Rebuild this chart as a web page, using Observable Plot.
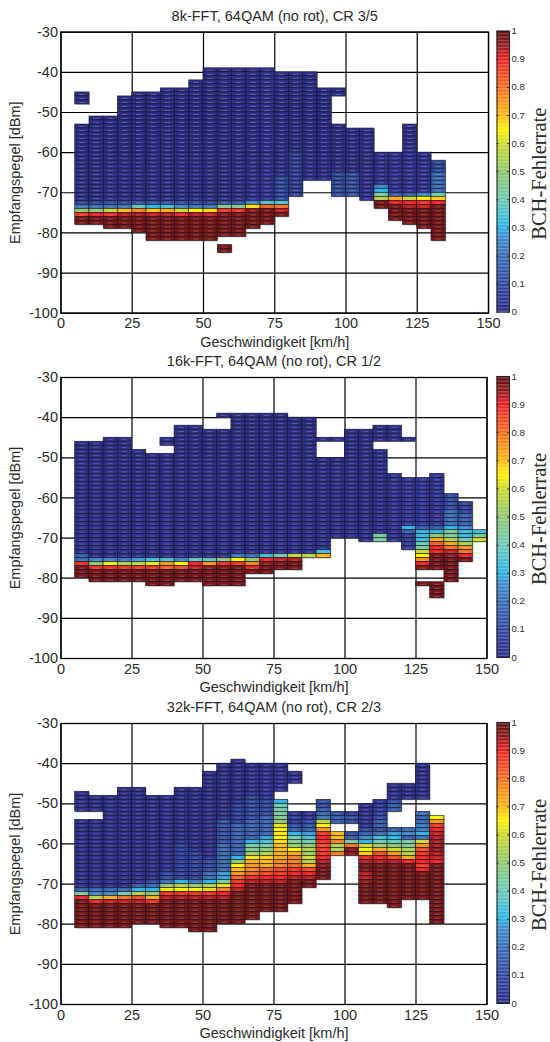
<!DOCTYPE html>
<html><head><meta charset="utf-8">
<script src="https://cdn.jsdelivr.net/npm/d3@7"></script>
<script src="https://cdn.jsdelivr.net/npm/@observablehq/plot@0.6"></script>
<style>
html,body{margin:0;padding:0;background:#fff}
#page{position:relative;width:550px;height:1042px;overflow:hidden}
#page svg{position:absolute;overflow:visible;background:transparent}
</style></head><body><div id="page"></div>
<script>
// Each column: [speed start km/h, top dBm, [rows, rate, rows, rate, ...]] — rate null = no measurement
const n = null;
const columns8k = [
[5,-45,[3,.03,5,n,19,.03,1,.08,1,.22,1,.5,1,.87,2,.97]],
[10,-51,[21,.03,1,.08,1,.2,1,.48,1,.9,2,.97]],
[15,-51,[21,.03,1,.1,1,.2,1,.58,1,.88,3,.97]],
[20,-46,[26,.03,1,.1,1,.22,1,.7,1,.93,3,.97]],
[25,-45,[27,.03,1,.12,1,.38,1,.77,1,.94,4,.97]],
[30,-45,[27,.03,1,.12,1,.3,1,.69,1,.92,6,.97]],
[35,-44,[28,.03,1,.12,1,.33,1,.72,1,.93,6,.97]],
[40,-44,[28,.03,1,.1,1,.25,1,.6,1,.9,6,.97]],
[45,-42,[30,.03,1,.1,1,.22,1,.65,1,.93,6,.97]],
[50,-39,[33,.03,1,.08,1,.22,1,.67,1,.92,6,.97]],
[55,-39,[33,.03,1,.12,1,.45,1,.87,1,.96,5,.97,2,n,2,.97]],
[60,-39,[33,.03,1,.12,1,.45,1,.88,1,.97,5,.97]],
[65,-39,[33,.04,1,.25,1,.67,1,.95,4,.97]],
[70,-39,[33,.05,1,.35,1,.82,1,.97,3,.97]],
[75,-40,[26,.03,6,.1,1,.35,1,.8,1,.92,1,.97]],
[80,-40,[20,.03,11,.08]],
[85,-40,[27,.03]],
[90,-44,[23,.03]],
[95,-44,[2,.03,7,n,12,.03,6,.1]],
[100,-54,[11,.03,6,.12]],
[105,-54,[18,.04]],
[110,-60,[8,.05,1,.25,1,.3,1,.42,1,.55,2,.97]],
[115,-60,[10,.05,1,.15,1,.72,1,.9,4,.97]],
[120,-53,[17,.05,1,.15,1,.6,1,.9,1,.93,4,.97]],
[125,-60,[10,.05,1,.25,1,.65,1,.88,1,.92,5,.97]],
[130,-62,[3,.1,5,.2,1,.4,1,.68,1,.9,9,.97]]
];
const columns16k = [
[5,-46,[28,.03,1,.15,1,.2,1,.88,3,.97]],
[10,-46,[29,.03,1,.25,1,.5,1,.88,3,.97]],
[15,-45,[30,.03,1,.25,1,.64,1,.88,3,.97]],
[20,-45,[30,.03,1,.22,1,.55,1,.88,3,.97]],
[25,-48,[27,.03,1,.28,1,.57,1,.87,3,.97]],
[30,-49,[26,.03,1,.33,1,.63,1,.87,4,.97]],
[35,-45,[2,.03,2,n,26,.03,1,.35,1,.75,1,.82,4,.97]],
[40,-42,[33,.03,1,.25,1,.65,1,.85,3,.97]],
[45,-42,[33,.03,1,.38,1,.9,1,.92,3,.97]],
[50,-43,[32,.03,1,.38,1,.75,1,.95,4,.97]],
[55,-39,[1,.03,3,n,32,.03,1,.48,1,.88,1,.96,4,.97]],
[60,-39,[35,.03,1,.22,1,.65,1,.88,5,.97]],
[65,-39,[35,.03,1,.2,1,.5,1,.77,1,.9,1,.97]],
[70,-39,[35,.03,1,.33,1,.9,1,.95,2,.97]],
[75,-39,[35,.03,1,.4,1,.92,2,.97]],
[80,-40,[34,.03,1,.58,1,.93,2,.97]],
[85,-40,[34,.03,1,.56]],
[90,-45,[1,.03,4,n,23,.03,1,.33,1,.7]],
[95,-45,[1,.03,4,n,20,.03]],
[100,-43,[27,.03]],
[105,-43,[28,.03]],
[110,-42,[4,.03,2,n,21,.03,2,.42]],
[115,-42,[4,.03,8,n,17,.04]],
[120,-45,[1,.03,9,n,12,.05,1,.3,1,.15,4,.06]],
[125,-55,[12,.05,1,.15,1,.3,2,.32,1,.4,1,.42,1,.6,1,.65,1,.76,1,.9,1,.96,3,n,1,.97]],
[130,-54,[13,.05,1,.15,1,.3,1,.5,1,.72,1,.82,2,.9,4,.97,3,n,4,.97]],
[135,-59,[4,.1,4,.2,1,.3,2,.45,1,.55,1,.73,1,.8,1,.92,1,.95,6,.97]],
[140,-61,[3,.08,3,.16,1,.25,1,.33,1,.32,1,.4,1,.55,1,.75,1,.8,1,.9,1,.97]],
[145,-68,[1,.33,1,.42,1,.6]]
];
const columns32k = [
[5,-47,[5,.03,2,n,17,.03,1,.15,1,.45,1,.9,7,.97]],
[10,-48,[4,.03,2,n,17,.03,1,.18,1,.25,1,.58,1,.9,6,.97]],
[15,-48,[23,.03,1,.18,1,.25,1,.72,1,.92,6,.97]],
[20,-46,[25,.03,1,.18,1,.4,1,.8,1,.92,6,.97]],
[25,-46,[24,.03,1,.15,1,.3,1,.55,1,.85,1,.93,5,.97]],
[30,-48,[21,.03,1,.1,1,.18,1,.3,1,.5,1,.72,1,.88,5,.97]],
[35,-48,[19,.03,2,.1,1,.2,1,.5,1,.66,1,.88,1,.93,7,.97]],
[40,-46,[14,.03,9,.07,1,.3,1,.55,1,.65,1,.88,1,.93,7,.97]],
[45,-46,[16,.03,7,.08,1,.22,1,.5,1,.65,1,.88,1,.93,8,.97]],
[50,-42,[22,.03,3,.1,2,.2,1,.3,1,.55,1,.67,1,.88,1,.93,8,.97]],
[55,-40,[14,.03,6,.12,7,.18,2,.28,1,.45,1,.62,1,.78,1,.9,1,.93,6,.97]],
[60,-39,[11,.03,5,.07,8,.16,1,.3,1,.5,1,.65,1,.7,1,.75,1,.82,1,.88,1,.9,1,.93,8,.97]],
[65,-40,[8,.04,6,.1,5,.17,1,.3,1,.42,1,.45,1,.52,1,.63,1,.72,1,.75,1,.77,1,.82,1,.88,1,.93,9,.97]],
[70,-40,[9,.05,4,.1,5,.17,1,.28,1,.35,1,.42,1,.5,1,.55,1,.68,1,.7,1,.72,1,.82,1,.85,1,.9,1,.93,7,.97]],
[75,-40,[7,.05,2,n,1,.3,1,.4,1,.42,1,.43,1,.45,1,.5,1,.62,1,.65,1,.66,1,.65,1,.67,2,.7,2,.72,1,.76,1,.78,1,.85,1,.87,1,.9,1,.93,7,.97]],
[80,-42,[3,.04,7,n,1,.05,1,.08,1,.05,1,.12,1,.15,1,.3,1,.4,1,.45,1,.5,1,.65,1,.72,2,.78,1,.82,1,.88,1,.9,1,.93,6,.97]],
[85,-52,[2,.05,1,.1,1,.12,1,.15,1,.28,1,.35,1,.42,1,.5,1,.55,1,.52,1,.6,1,.55,1,.72,1,.85,1,.9,1,.93,2,.97]],
[90,-49,[1,.12,1,.1,1,.15,1,.18,1,.22,1,.57,1,.65,1,.75,1,.87,1,.9,1,.88,1,.85,1,.87,1,.88,1,.9,1,.93,1,.95,3,.97]],
[95,-52,[1,.12,2,.15,2,n,2,.7,1,.78,2,.55,1,.78]],
[100,-52,[1,.06,1,.12,1,.1,2,n,1,.1,1,.15,1,.42,1,.8,2,.96]],
[105,-50,[6,.04,1,.1,1,.15,1,.25,1,.3,1,.6,1,.65,1,.68,1,.9,1,.93,1,.97,1,.96,2,.93,1,.95,5,.97]],
[110,-49,[2,.05,1,.07,1,.08,1,.1,2,.15,1,.1,1,.2,1,.33,1,.4,1,.52,1,.72,1,.85,1,.9,1,.93,10,.97]],
[115,-45,[4,.04,1,.12,2,.15,4,n,1,.15,1,.28,1,.3,1,.4,1,.5,1,.6,1,.75,1,.85,1,.93,11,.97]],
[120,-45,[4,.04,7,n,1,.2,1,.25,1,.15,1,.42,1,.45,2,.55,1,.72,1,.9,9,.97]],
[125,-40,[9,.04,3,n,1,.2,1,.15,1,.18,2,.22,1,.3,1,.2,1,.6,1,.76,1,.85,1,.88,2,.9,1,.87,1,.9,7,.97]],
[130,-53,[1,.65,1,.75,1,.87,1,.9,1,.92,1,.93,2,.94,1,.95,1,.93,1,.92,1,.9,15,.97]]
];
const colorStops = [0,.05,.1,.2,.27,.3,.4,.5,.6,.65,.7,.8,.9,.95,1];
const colorValues = ["#2b2c80","#2f3596","#30489f","#3a6cb4","#3f8fcf","#2ab3e6","#6dc8b4","#8fc76f","#cdd92c","#fff200","#fdb813","#f36f21","#ed2024","#8e181c","#5a0f10"];
const xTicks = [0,25,50,75,100,125,150];
const yTicks = [-30,-40,-50,-60,-70,-80,-90,-100];
const barTicks = [0,.1,.2,.3,.4,.5,.6,.7,.8,.9,1];
const panels = [
  {title:"8k-FFT, 64QAM (no rot), CR 3/5",columns:columns8k,svgTop:0,frameTop:31.7,frameRight:488},
  {title:"16k-FFT, 64QAM (no rot), CR 1/2",columns:columns16k,svgTop:345,frameTop:32,frameRight:486.5},
  {title:"32k-FFT, 64QAM (no rot), CR 2/3",columns:columns32k,svgTop:691,frameTop:32,frameRight:486.5}
];
const sansFont = "'Liberation Sans',Arial,sans-serif";
const ink = "#2b2b2b";
const color = {type:"linear",domain:colorStops,range:colorValues,clamp:true,interpolate:"rgb"};
const page = document.getElementById("page");

function expand(columns){
  const cells=[];
  for(const [speed,top,runs] of columns){
    let d=top;
    for(let i=0;i<runs.length;i+=2){
      for(let k=0;k<runs[i];k++,d--){
        if(runs[i+1]!==null) cells.push({x1:speed,x2:speed+5,y1:d,y2:d-1,rate:runs[i+1]});
      }
    }
  }
  return cells;
}

for(const p of panels){
  const cells=expand(p.columns);
  const H=345, frameH=281;
  const main=Plot.plot({
    width:550,height:H,
    marginLeft:60.5,marginRight:550-p.frameRight,marginTop:p.frameTop,marginBottom:H-p.frameTop-frameH,
    style:{fontFamily:sansFont,background:"transparent",overflow:"visible"},
    x:{domain:[0,150]},
    y:{domain:[-100,-30]},
    color,
    marks:[
      Plot.ruleX(xTicks,{stroke:"#000",strokeWidth:1.2}),
      Plot.ruleY(yTicks,{stroke:"#000",strokeWidth:1.2}),
      Plot.rect(cells,{x1:"x1",x2:"x2",y1:"y1",y2:"y2",fill:"#8f8f8f",fillOpacity:.55,dx:1,dy:1}),
      Plot.rect(cells,{x1:"x1",x2:"x2",y1:"y1",y2:"y2",fill:"rate",stroke:"#14141e",strokeWidth:.6,inset:0}),
      Plot.ruleY(cells,{y:d=>d.y1-.5,x1:d=>d.x1+1.5,x2:d=>d.x2-1.5,stroke:"#fff",strokeOpacity:.28,strokeWidth:.8}),
      Plot.frame({stroke:"#000",strokeWidth:1.3}),
      Plot.axisX({ticks:xTicks,tickSize:0,tickPadding:5,fontSize:14.5,fill:ink,label:null,tickFormat:d=>String(d)}),
      Plot.axisY({ticks:yTicks,tickSize:0,tickPadding:3,fontSize:14.5,fill:ink,label:null,tickFormat:d=>String(d)}),
      Plot.text([p.title],{frameAnchor:"top",dy:-16,fontSize:14.5,fill:ink,lineAnchor:"middle"}),
      Plot.text(["Geschwindigkeit [km/h]"],{frameAnchor:"bottom",dy:29,fontSize:14.5,fill:ink,lineAnchor:"middle"}),
      Plot.text(["Empfangspegel [dBm]"],{frameAnchor:"left",dx:-45.5,rotate:-90,fontSize:14.5,fill:ink,textAnchor:"middle"})
    ]
  });
  main.style.left="0px";main.style.top=p.svgTop+"px";
  page.appendChild(main);

  const ramp=d3.range(0,1,.005);
  const bar=Plot.plot({
    width:75,height:H,
    marginLeft:16.5,marginRight:75-29,marginTop:p.frameTop-1,marginBottom:H-p.frameTop-frameH+1,
    style:{fontFamily:sansFont,background:"transparent",overflow:"visible"},
    x:{domain:[0,1],axis:null},
    y:{domain:[0,1]},
    color,
    marks:[
      Plot.rect(ramp,{x1:0,x2:1,y1:d=>d,y2:d=>d+.0052,fill:d=>d+.0025}),
      Plot.ruleY(barTicks,{x1:0,x2:.17,stroke:"#222",strokeWidth:.8}),
      Plot.ruleY(barTicks,{x1:.83,x2:1,stroke:"#222",strokeWidth:.8}),
      Plot.frame({stroke:"#222",strokeWidth:1}),
      Plot.axisY({anchor:"right",ticks:barTicks,tickSize:0,tickPadding:2,fontSize:9.6,fill:ink,label:null,tickFormat:d=>String(d)}),
      Plot.text(["BCH-Fehlerrate"],{frameAnchor:"right",dx:30,dy:2,rotate:-90,fontFamily:"'Liberation Serif','Times New Roman',serif",fontSize:20.5,fill:ink,textAnchor:"middle"})
    ]
  });
  bar.style.left="480px";bar.style.top=p.svgTop+"px";
  page.appendChild(bar);
}
</script></body></html>
